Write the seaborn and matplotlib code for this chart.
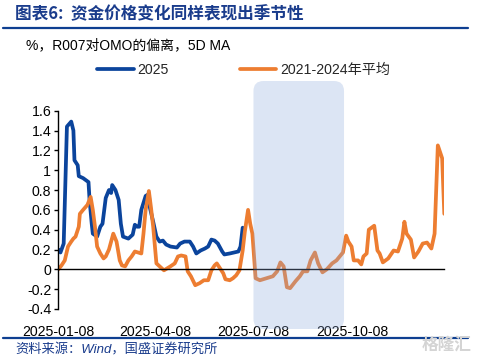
import pandas as pd
import numpy as np
import matplotlib
matplotlib.use("Agg")
import matplotlib.pyplot as plt
import matplotlib.dates as mdates
from matplotlib.patches import FancyBboxPatch
from matplotlib.lines import Line2D
from matplotlib.transforms import IdentityTransform
import seaborn as sns

# data (days counted from 2025-01-08)
START = pd.Timestamp("2025-01-08")
blue_days = [0, 2, 5, 8, 12, 14, 15, 18, 19, 23, 28, 29, 31, 32, 36, 39, 41, 44, 47, 49,
             50, 53, 56, 58, 60, 65, 69, 71, 73, 75, 77, 81, 84, 85, 88, 91, 94, 97, 100, 104,
             110, 113, 117, 122, 125, 128, 132, 136, 139, 142, 145, 148, 152, 154, 159, 167, 169, 171]
blue_vals = [0.20, 0.17, 0.26, 1.44, 1.49, 1.40, 1.10, 1.05, 0.94, 0.92, 0.88, 0.70, 0.46, 0.36, 0.33, 0.43, 0.46, 0.72, 0.80, 0.77,
             0.85, 0.80, 0.70, 0.46, 0.33, 0.31, 0.35, 0.45, 0.43, 0.43, 0.60, 0.74, 0.76, 0.62, 0.48, 0.33, 0.28, 0.29, 0.25, 0.23,
             0.22, 0.26, 0.28, 0.28, 0.23, 0.16, 0.19, 0.21, 0.23, 0.30, 0.29, 0.26, 0.18, 0.15, 0.16, 0.18, 0.23, 0.42]

orange_days = [0, 3, 6, 9, 12, 14, 16, 19, 20, 23, 27, 30, 32, 34, 36, 39, 42, 44, 47, 51,
               54, 57, 59, 62, 65, 68, 71, 74, 77, 79, 81, 84, 86, 88, 91, 94, 98, 101, 104, 108,
               111, 114, 118, 120, 123, 127, 131, 135, 139, 142, 145, 147, 150, 153, 155, 159, 162, 165, 168, 171,
               173, 176, 178, 180, 183, 187, 193, 199, 203, 206, 209, 212, 215, 220, 224, 227, 231, 234, 238, 241,
               245, 249, 254, 258, 264, 267, 269, 272, 274, 278, 281, 283, 286, 288, 293, 296, 298, 301, 306, 311,
               315, 319, 321, 323, 327, 330, 334, 338, 342, 346, 349, 352, 356, 358]
orange_vals = [0.00, 0.04, 0.09, 0.23, 0.28, 0.31, 0.33, 0.43, 0.56, 0.60, 0.65, 0.73, 0.60, 0.43, 0.23, 0.16, 0.11, 0.13, 0.20, 0.36,
               0.28, 0.09, 0.04, 0.03, 0.09, 0.13, 0.18, 0.17, 0.16, 0.36, 0.60, 0.79, 0.62, 0.43, 0.06, 0.03, -0.01, 0.01, 0.03, 0.06,
               0.13, 0.14, 0.13, -0.02, -0.07, -0.16, -0.14, -0.11, -0.11, -0.01, 0.04, 0.06, 0.01, -0.04, -0.10, -0.11, -0.09, -0.06, -0.01, 0.19,
               0.38, 0.60, 0.46, 0.36, -0.09, -0.11, -0.09, -0.07, -0.02, 0.07, 0.03, -0.18, -0.19, -0.12, -0.07, -0.02, -0.02, 0.09, 0.17, 0.06,
               -0.03, 0.00, 0.06, 0.09, 0.17, 0.34, 0.28, 0.23, 0.09, 0.09, 0.05, 0.13, 0.16, 0.40, 0.44, 0.19, 0.16, 0.07, 0.11, 0.19,
               0.18, 0.31, 0.48, 0.36, 0.30, 0.12, 0.18, 0.26, 0.27, 0.21, 0.36, 1.25, 1.12, 0.56]

tick_dates = ["2025-01-08", "2025-04-08", "2025-07-08", "2025-10-08"]
shade_range = ["2025-07-08", "2025-09-30"]
label_2025 = "2025"
label_avg = "2021-2024年平均"

BLUE = "#0b449c"
ORANGE = "#ed7d31"
NAVY = "#1a3c8c"

df_blue = pd.DataFrame({"date": START + pd.to_timedelta(blue_days, unit="D"), "value": blue_vals})
df_orange = pd.DataFrame({"date": START + pd.to_timedelta(orange_days, unit="D"), "value": orange_vals})

sns.set_theme(style="white")
plt.rcParams["font.family"] = ["Liberation Sans", "Noto Sans CJK SC"]

W, H = 481, 363
fig = plt.figure(figsize=(W / 100, H / 100), dpi=100)
ax = fig.add_axes([58.3 / W, 1 - 309 / H, (444.3 - 58.3) / W, (309 - 110.7) / H])

sns.lineplot(data=df_blue, x="date", y="value", ax=ax, color=BLUE, lw=2.7, label=label_2025)
sns.lineplot(data=df_orange, x="date", y="value", ax=ax, color=ORANGE, lw=2.7, label=label_avg)

ax.set_xlim(START, START + pd.Timedelta(days=358))
ax.set_ylim(-0.4, 1.6)
ax.set_yticks(np.round(np.arange(-0.4, 1.61, 0.2), 1))
ax.yaxis.set_major_formatter(plt.FuncFormatter(lambda v, p: f"{v:g}" if abs(v) > 1e-9 else "0"))
ax.set_xticks(pd.to_datetime(tick_dates))
ax.xaxis.set_major_formatter(mdates.DateFormatter("%Y-%m-%d"))
ax.set_xlabel("")
ax.set_ylabel("")

for s in ["top", "right"]:
    ax.spines[s].set_visible(False)
ax.spines["bottom"].set_position(("data", 0))
ax.spines["bottom"].set_color("black")
ax.spines["bottom"].set_linewidth(1.0)
ax.spines["left"].set_color("black")
ax.spines["left"].set_linewidth(1.0)
ax.tick_params(axis="x", direction="out", length=3, width=1, color="black", pad=37, labelsize=10.2, labelcolor="black")
ax.tick_params(axis="y", direction="out", length=3, width=1, color="black", pad=2, labelsize=10.2, labelcolor="black", left=True)
ax.grid(False)

ax.get_legend().remove()
handles, labels = ax.get_legend_handles_labels()
fig.legend(handles, labels, loc="center left", bbox_to_anchor=(97 / W, 1 - 70 / H), ncol=2,
           frameon=False, fontsize=10.2, handlelength=2.6, handletextpad=0.25, columnspacing=5.0,
           borderpad=0, borderaxespad=0)

# shaded window (Jul-Sep), drawn on top with transparency
x0 = ax.transData.transform((mdates.date2num(pd.Timestamp(shade_range[0])), 0))[0]
x1 = ax.transData.transform((mdates.date2num(pd.Timestamp(shade_range[1])), 0))[0]
shade = FancyBboxPatch((x0, H - 329), x1 - x0, 329 - 81, boxstyle="round,pad=0,rounding_size=10",
                       transform=IdentityTransform(), facecolor="#8eaadb", edgecolor="none", alpha=0.3, zorder=5)
fig.add_artist(shade)

# title, rules, notes
fig.text(15 / W, 1 - 14 / H, "图表6:  资金价格变化同样表现出季节性", fontsize=12, fontweight="bold",
         color=NAVY, va="center", ha="left", family=["Noto Sans CJK SC", "DejaVu Sans"])
fig.add_artist(Line2D([3 / W, 468 / W], [1 - 27.5 / H] * 2, color="#0e3f91", lw=1.6))
fig.text(26 / W, 1 - 45 / H, "%，R007对OMO的偏离，5D MA", fontsize=10, color="black", va="center", ha="left")
fig.add_artist(Line2D([3 / W, 468 / W], [1 - 337.5 / H] * 2, color="#0e3f91", lw=1.6))
fig.text(15 / W, 1 - 350 / H, "资料来源：Wind，国盛证券研究所", fontsize=9.5, style="italic",
         color=NAVY, va="center", ha="left")
fig.text(472 / W, 1 - 345 / H, "格隆汇", fontsize=12, fontweight="bold", color="#d4d4d4",
         va="center", ha="right", family=["Noto Sans CJK SC", "DejaVu Sans"], zorder=6)

fig.savefig("out.png", dpi=100)
